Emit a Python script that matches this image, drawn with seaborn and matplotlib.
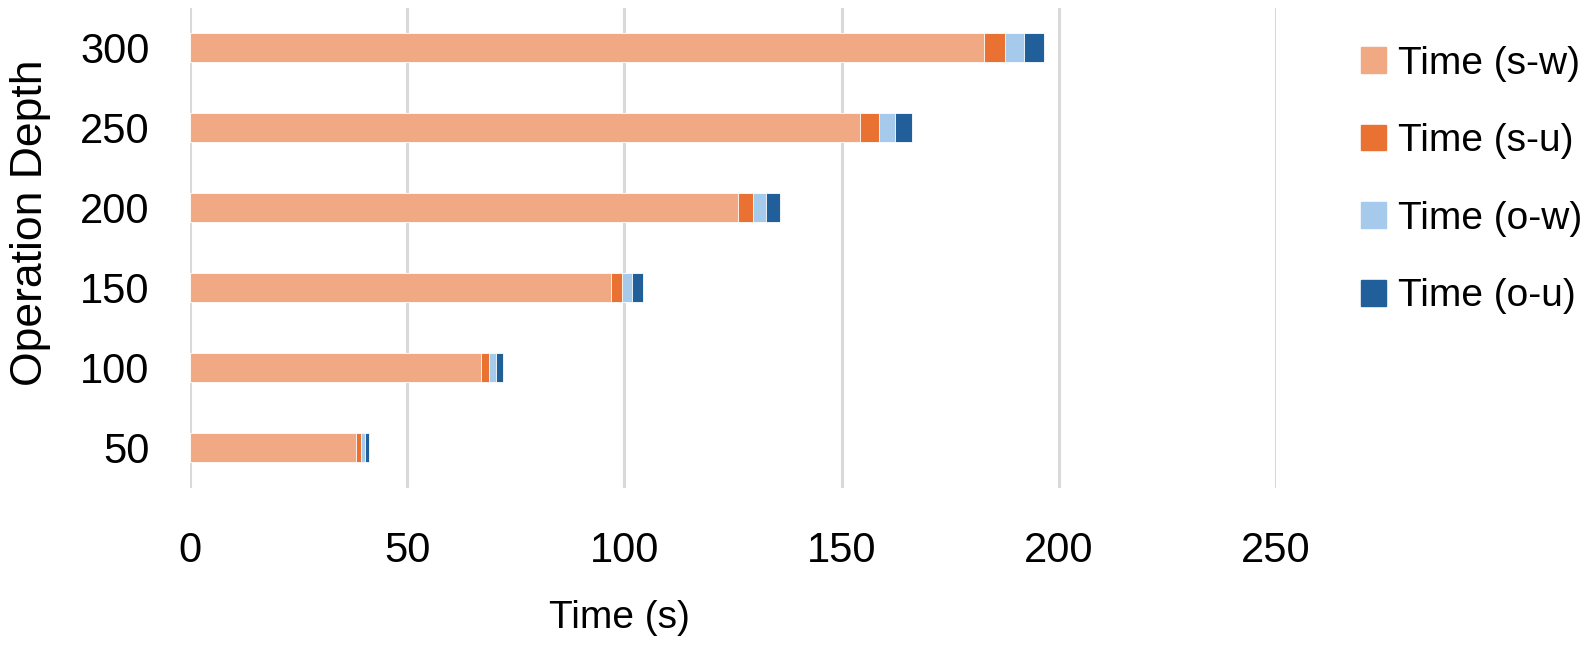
import matplotlib
matplotlib.use("Agg")
import matplotlib.pyplot as plt
import matplotlib.patches as mpatches
import numpy as np
import pandas as pd
import seaborn as sns

# values
depths = ["300", "250", "200", "150", "100", "50"]
time_sw = [182.7, 154.2, 126.1, 96.9, 67.1, 38.2]
time_su = [4.8, 4.4, 3.5, 2.5, 1.8, 1.15]
time_ow = [4.4, 3.7, 3.0, 2.3, 1.6, 0.85]
time_ou = [4.8, 3.9, 3.2, 2.5, 1.6, 1.0]

series = ["Time (s-w)", "Time (s-u)", "Time (o-w)", "Time (o-u)"]
colors = ["#F1A983", "#E97132", "#A6CAEC", "#215F9A"]

sns.set_style("white")
plt.rcParams["font.family"] = ["Liberation Sans", "DejaVu Sans"]
plt.rcParams["text.color"] = "black"
plt.rcParams["axes.labelcolor"] = "black"
plt.rcParams["xtick.color"] = "black"
plt.rcParams["ytick.color"] = "black"

df = pd.DataFrame({"depth": depths, "sw": time_sw, "su": time_su,
                   "ow": time_ow, "ou": time_ou})
cum = df[["sw", "su", "ow", "ou"]].cumsum(axis=1)

fig = plt.figure(figsize=(15.87, 6.45), dpi=100)
ax = fig.add_axes([190 / 1587, 1 - 487.5 / 645, 1086 / 1587, 480 / 645])

# stacked bars: draw totals first, then the shorter cumulative sums on top
for col, c in zip(["ou", "ow", "su", "sw"], colors[::-1]):
    sns.barplot(x=cum[col], y=df["depth"], order=depths, color=c,
                saturation=1, width=0.36, orient="h", ax=ax,
                edgecolor="white", linewidth=0.6, zorder=3)

ax.set_xlim(0, 250)
ax.set_xticks(np.arange(0, 251, 50))
ax.grid(axis="x", color="#D9D9D9", linewidth=2.2, zorder=0)
ax.set_axisbelow(True)
for s in ax.spines.values():
    s.set_visible(False)
ax.tick_params(axis="both", length=0, labelsize=30)
ax.tick_params(axis="x", pad=31)
ax.tick_params(axis="y", pad=29)

ax.set_xlabel("Time (s)", fontsize=28)
ax.xaxis.set_label_coords(0.395, -0.235)
ax.set_ylabel("Operation Depth", fontsize=32)
ax.yaxis.set_label_coords(-0.128, 0.551)

handles = [mpatches.Patch(color=c, label=l) for c, l in zip(colors, series)]
fig.legend(handles=handles, loc="upper left",
           bbox_to_anchor=(1345 / 1587, 1 - 30 / 645), frameon=False,
           fontsize=28, handlelength=0.65, handleheight=0.65,
           handletextpad=0.3, labelspacing=1.07, borderaxespad=0)

fig.savefig("out.png", dpi=100)
